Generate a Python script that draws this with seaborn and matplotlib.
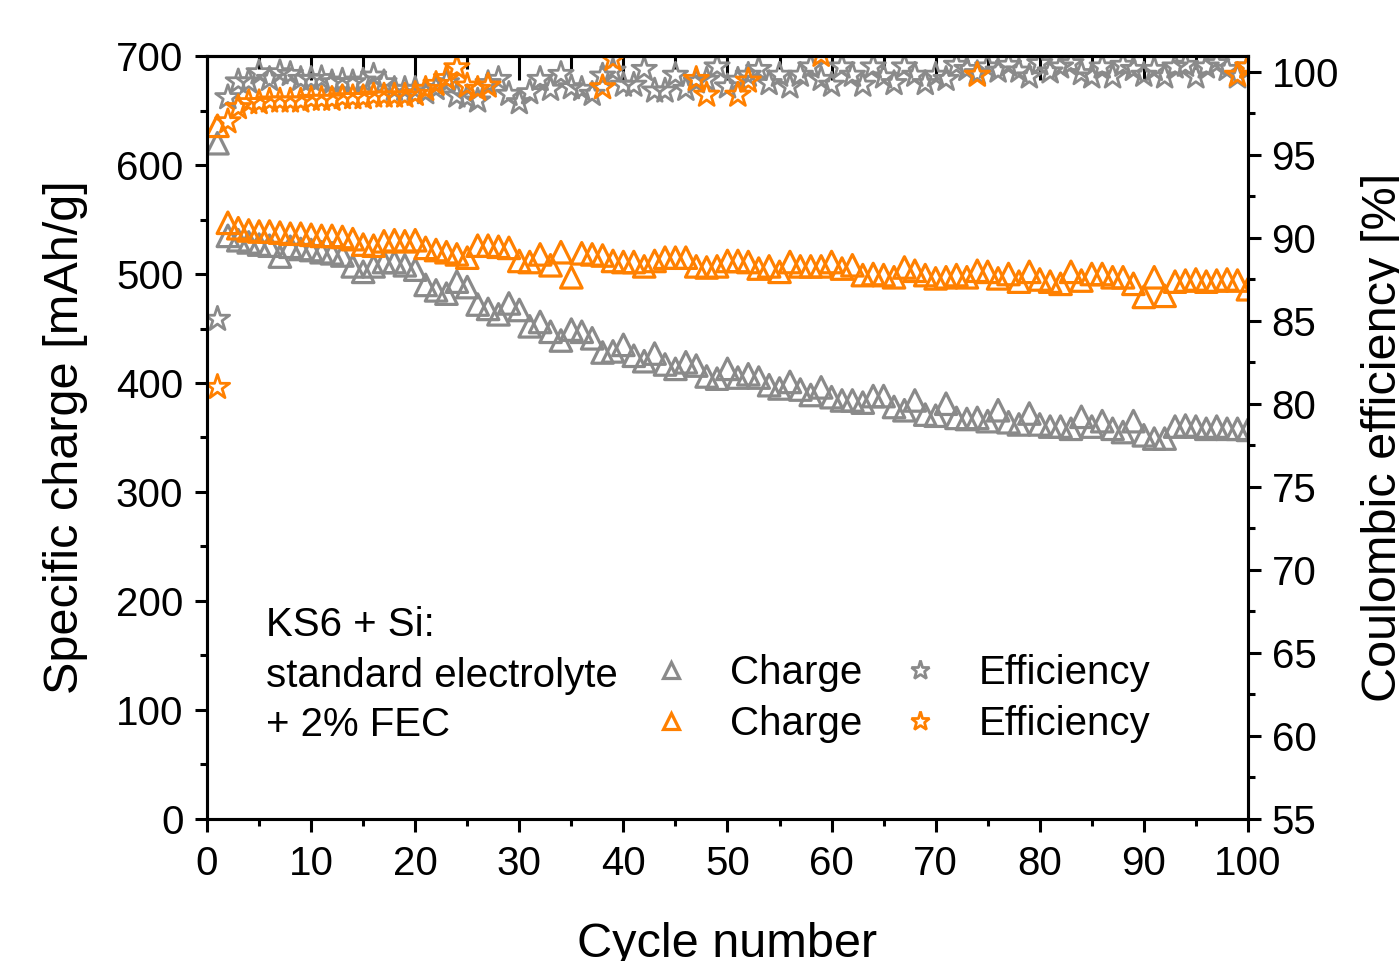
import numpy as np
import matplotlib
matplotlib.use("Agg")
import matplotlib.pyplot as plt
import seaborn as sns
from matplotlib.ticker import MultipleLocator
from matplotlib.lines import Line2D

# cycle number 1..100
cycles = list(range(1, 101))

# specific charge [mAh/g], standard electrolyte (grey)
charge_std = [620, 535, 531, 529, 527, 526, 516, 525, 523, 522,
              520, 519, 517, 507, 502, 507, 511, 511, 508, 504,
              490, 485, 482, 493, 488, 472, 468, 463, 473, 467,
              452, 456, 447, 439, 449, 447, 441, 428, 429, 435,
              425, 420, 427, 417, 413, 419, 416, 406, 404, 413,
              405, 408, 405, 398, 395, 401, 394, 389, 396, 387,
              384, 384, 382, 388, 388, 378, 375, 384, 371, 370,
              381, 368, 367, 368, 365, 375, 364, 362, 372, 362,
              360, 360, 358, 369, 360, 365, 358, 355, 365, 352,
              349, 349, 360, 361, 360, 358, 360, 358, 358, 357]

# specific charge [mAh/g], + 2% FEC (orange)
charge_fec = [636, 547, 542, 540, 539, 539, 538, 537, 537, 536,
              535, 535, 534, 532, 527, 526, 530, 531, 530, 531,
              524, 522, 520, 518, 515, 526, 526, 525, 524, 512,
              511, 518, 508, 520, 497, 519, 518, 517, 512, 511,
              511, 507, 512, 515, 515, 515, 507, 506, 507, 512,
              512, 511, 505, 507, 502, 511, 507, 507, 507, 511,
              505, 508, 499, 500, 499, 497, 506, 503, 499, 496,
              497, 499, 497, 503, 502, 496, 500, 493, 502, 495,
              493, 491, 502, 494, 500, 500, 497, 497, 491, 479,
              497, 480, 493, 494, 495, 493, 494, 495, 494, 486]

# coulombic efficiency [%], standard electrolyte
eff_std = [85.1, 98.45, 99.4, 99.4, 99.95, 99.55, 99.95, 99.85, 99.55, 99.55,
           99.6, 99.35, 99.45, 99.35, 99.45, 99.75, 99.35, 98.95, 98.95, 98.95,
           98.75, 99.0, 99.35, 98.55, 98.45, 98.25, 99.3, 99.55, 98.65, 98.15,
           98.75, 99.55, 98.95, 99.85, 99.05, 98.95, 98.65, 99.75, 100.05, 99.2,
           99.2, 100.15, 98.85, 98.85, 99.8, 98.95, 99.4, 99.5, 100.3, 99.1,
           99.5, 99.8, 100.15, 99.3, 99.8, 99.1, 99.8, 100.3, 99.55, 99.2,
           100.3, 99.8, 99.2, 100.3, 99.7, 99.3, 100.3, 99.8, 99.3, 99.8,
           99.55, 100.4, 100.15, 99.9, 100.3, 100.05, 100.4, 100.05, 99.7, 100.5,
           100.0, 100.3, 100.5, 99.9, 99.7, 100.3, 99.7, 100.4, 100.15, 99.8,
           100.15, 99.7, 100.3, 100.4, 99.7, 100.3, 100.5, 100.15, 99.7, 100.3]

# coulombic efficiency [%], + 2% FEC (nan = off the top of the scale)
nan = np.nan
eff_fec = [81.0, 97.0, 97.85, 98.15, 98.15, 98.25, 98.25, 98.25, 98.25, 98.35,
           98.35, 98.35, 98.45, 98.45, 98.45, 98.55, 98.55, 98.55, 98.55, 98.65,
           98.95, 99.25, 99.6, 100.25, 99.15, 98.95, 99.15, nan, nan, nan,
           nan, nan, nan, nan, nan, nan, nan, 99.05, 100.75, nan,
           nan, nan, nan, nan, nan, nan, 99.55, 98.6, nan, nan,
           98.6, 99.45, nan, nan, nan, nan, nan, nan, 101.0, nan,
           nan, nan, nan, nan, nan, nan, nan, nan, nan, nan,
           nan, nan, nan, 99.8, nan, nan, nan, nan, nan, nan,
           nan, nan, nan, nan, nan, nan, nan, nan, nan, nan,
           nan, nan, nan, nan, nan, nan, nan, nan, 99.8, 100.3]

GREY = "#8a8a8a"
ORANGE = "#ff8000"

sns.set_theme(style="ticks")
plt.rcParams["font.family"] = ["Liberation Sans", "DejaVu Sans"]
plt.rcParams["axes.linewidth"] = 2.2
plt.rcParams["text.color"] = "black"
plt.rcParams["axes.labelcolor"] = "black"
plt.rcParams["xtick.color"] = "black"
plt.rcParams["ytick.color"] = "black"

fig = plt.figure(figsize=(13.99, 9.61), dpi=100)
ax = fig.add_axes([0.148, 0.1478, 0.744, 0.7939])
ax2 = ax.twinx()

tri = dict(marker="^", s=240, facecolor="none", linewidth=2.3, ax=ax, legend=False)
sns.scatterplot(x=cycles, y=charge_std, edgecolor=GREY, **tri)
sns.scatterplot(x=cycles, y=charge_fec, edgecolor=ORANGE, **tri)

star = dict(marker="*", s=340, facecolor="none", linewidth=2.0, ax=ax2, legend=False)
sns.scatterplot(x=cycles, y=eff_std, edgecolor=GREY, **star)
sns.scatterplot(x=cycles, y=eff_fec, edgecolor=ORANGE, **star)

ax.set_xlim(0, 100)
ax.set_ylim(0, 700)
ax2.set_ylim(55, 100.95)

ax.xaxis.set_major_locator(MultipleLocator(10))
ax.xaxis.set_minor_locator(MultipleLocator(5))
ax.yaxis.set_major_locator(MultipleLocator(100))
ax.yaxis.set_minor_locator(MultipleLocator(50))
ax2.yaxis.set_major_locator(MultipleLocator(5))
ax2.yaxis.set_minor_locator(MultipleLocator(2.5))

ax.tick_params(axis="both", which="major", direction="out", length=9, width=2.2,
               labelsize=29, pad=8, color="black", labelcolor="black")
ax.tick_params(axis="both", which="minor", direction="out", length=5, width=2.2)
ax.tick_params(axis="x", pad=10)
ax2.tick_params(axis="y", which="major", direction="out", length=9, width=2.2,
                labelsize=29, pad=8, color="black", labelcolor="black")
ax2.tick_params(axis="y", which="minor", direction="out", length=5, width=2.2)

top = ax.secondary_xaxis("top")
top.xaxis.set_major_locator(MultipleLocator(10))
top.xaxis.set_minor_locator(MultipleLocator(5))
top.tick_params(axis="x", which="major", direction="in", length=17, width=2.2, labeltop=False)
top.tick_params(axis="x", which="minor", direction="in", length=9, width=2.2)
for sp in top.spines.values():
    sp.set_linewidth(2.2)

for a in (ax, ax2):
    for sp in a.spines.values():
        sp.set_linewidth(2.2)
        sp.set_color("black")

ax.set_xlabel("Cycle number", fontsize=35, labelpad=28)
ax.set_ylabel("Specific charge [mAh/g]", fontsize=35, labelpad=20)
ax2.set_ylabel("Coulombic efficiency [%]", fontsize=35, labelpad=16)

# sample description
ax.text(0.057, 0.254, "KS6 + Si:", transform=ax.transAxes, fontsize=29, va="center")
ax.text(0.057, 0.188, "standard electrolyte", transform=ax.transAxes, fontsize=29, va="center")
ax.text(0.057, 0.123, "+ 2% FEC", transform=ax.transAxes, fontsize=29, va="center")

handles = [
    Line2D([], [], ls="none", marker="^", ms=12, mfc="none", mec=GREY, mew=2.3),
    Line2D([], [], ls="none", marker="^", ms=12, mfc="none", mec=ORANGE, mew=2.3),
    Line2D([], [], ls="none", marker="*", ms=14, mfc="none", mec=GREY, mew=2.0),
    Line2D([], [], ls="none", marker="*", ms=14, mfc="none", mec=ORANGE, mew=2.0),
]
labels = ["Charge", "Charge", "Efficiency", "Efficiency"]
ax2.legend(handles, labels, ncol=2, loc="upper left", bbox_to_anchor=(0.4265, 0.216),
           frameon=False, fontsize=29, handlelength=1.0, handletextpad=0.95,
           columnspacing=0.95, labelspacing=0.33, borderpad=0, borderaxespad=0)

fig.savefig("out.png", dpi=100)
